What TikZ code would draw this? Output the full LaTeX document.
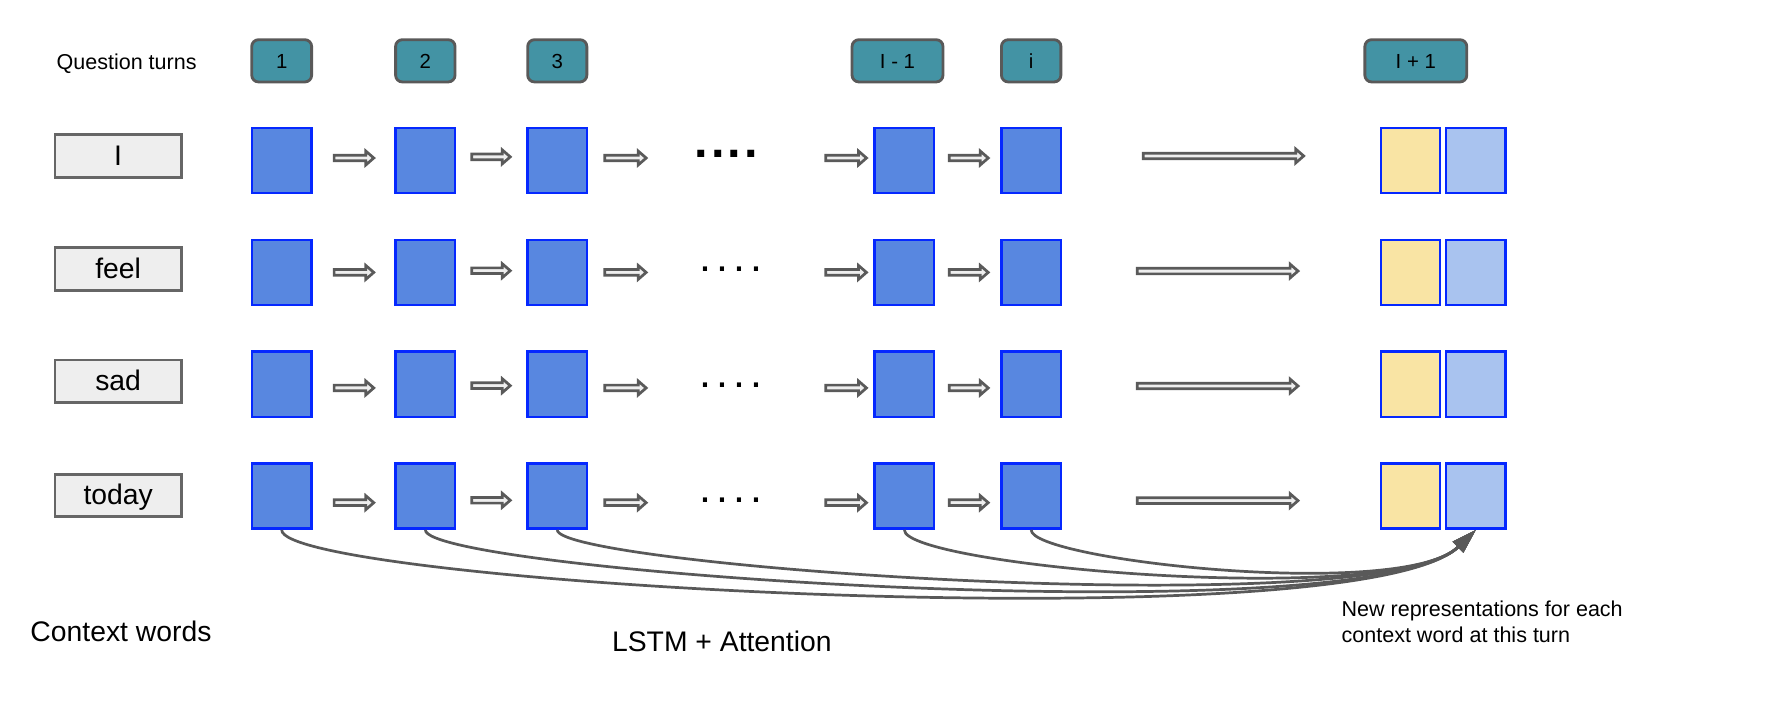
\documentclass[tikz,border=0pt]{standalone}
\usepackage{fontspec}
\setmainfont{Liberation Sans}
\usetikzlibrary{calc,arrows.meta}
\definecolor{tealfill}{HTML}{4393A4}
\definecolor{darkline}{HTML}{595959}
\definecolor{wordfill}{HTML}{EEEEEE}
\definecolor{wordline}{HTML}{666666}
\definecolor{cellfill}{HTML}{5887E0}
\definecolor{cellline}{HTML}{0528FF}
\definecolor{yelfill}{HTML}{F9E4A4}
\definecolor{lbfill}{HTML}{A9C3EF}
\definecolor{arrfill}{HTML}{EEEEEE}
\definecolor{arrline}{HTML}{5A5A5A}
\definecolor{curveline}{HTML}{595959}
\tikzset{
  turnbox/.style={draw=darkline, fill=tealfill, line width=2.5pt, rounded corners=6pt,
    inner sep=0pt, minimum height=37.3pt, text height=15pt, text depth=1.8pt,
    font={\fontsize{18}{22}\selectfont}},
  wordbox/.style={draw=wordline, fill=wordfill, line width=2.5pt, inner sep=0pt,
    minimum width=111.5pt, minimum height=37.5pt, text height=20pt, text depth=3.4pt,
    font={\fontsize{25}{30}\selectfont}},
  cell/.style={draw=cellline, line width=2.2pt, inner sep=0pt, minimum width=52.8pt, minimum height=57.5pt},
  lstmcell/.style={cell, fill=cellfill},
  oldcell/.style={cell, fill=yelfill, minimum width=52pt},
  newcell/.style={cell, fill=lbfill, minimum width=52.4pt},
  blockarr/.style={draw=arrline, fill=arrfill, line width=2.4pt, line join=miter,
    to path={let \p1=(\tikztostart), \p2=(\tikztotarget) in
      (\x1,\y1+2.5pt) -- (\x2-7pt,\y1+2.5pt) -- (\x2-7pt,\y1+6.1pt) -- (\x2,\y1)
      -- (\x2-7pt,\y1-6.1pt) -- (\x2-7pt,\y1-2.5pt) -- (\x1,\y1-2.5pt) -- cycle}},
  attn/.style={draw=curveline, line width=2.4pt, -{Triangle[length=22pt,width=13pt]}},
  plain/.style={inner sep=0pt, anchor=base west},
}
\begin{document}
\begin{tikzpicture}[x=1pt,y=1pt]
\useasboundingbox (0,0) rectangle (1568,-635.6);

% question turns
\node[plain, font={\fontsize{19}{23}\selectfont}] (qt) at (49.8,-61) {Question turns};
\node[turnbox, minimum width=52.9pt] (t1) at (248.7,-53.7) {1};
\node[turnbox, minimum width=52.5pt] (t2) at (375.5,-53.7) {2};
\node[turnbox, minimum width=52.2pt] (t3) at (492,-53.7) {3};
\node[turnbox, minimum width=80.3pt] (t4) at (792.4,-53.7) {I - 1};
\node[turnbox, minimum width=52.5pt] (t5) at (910.4,-53.7) {i};
\node[turnbox, minimum width=90pt] (t6) at (1250,-53.7) {I + 1};

% context words
\node[wordbox] (w1) at (104.3,-137.6) {I};
\node[wordbox] (w2) at (104.3,-237.5) {feel};
\node[wordbox] (w3) at (104.3,-336.6) {sad};
\node[wordbox] (w4) at (104.3,-437.3) {today};

% cells
\foreach \r/\y in {1/141.7, 2/240.5, 3/339.2, 4/438}{
  \node[lstmcell] (b\r1) at (248.7,-\y) {};
  \node[lstmcell] (b\r2) at (375.5,-\y) {};
  \node[lstmcell] (b\r3) at (492,-\y) {};
  \node[lstmcell] (b\r4) at (798.4,-\y) {};
  \node[lstmcell] (b\r5) at (910.4,-\y) {};
  \node[oldcell] (y\r) at (1245.4,-\y) {};
  \node[newcell] (n\r) at (1303,-\y) {};
}

% block arrows
\foreach \r/\d/\e/\ls/\le/\lo in {1/2.2/3.2/71.4/67.3/4, 2/0/1.5/66.1/72.3/1.2, 3/-3.3/-1.3/66.1/72.3/-1.6, 4/-5.8/-3.7/66.1/72.3/-4}{
  \path[blockarr] ($(b\r1.east)+(18.8,\d)$) to ($(b\r2.west)+(-18,\d)$);
  \path[blockarr] ($(b\r2.east)+(13.5,\e)$) to ($(b\r3.west)+(-14,\e)$);
  \path[blockarr] ($(b\r3.east)+(14.5,\d)$) to ($(b\r3.east)+(51,\d)$);
  \path[blockarr] ($(b\r4.west)+(-41.9,\d)$) to ($(b\r4.west)+(-5.9,\d)$);
  \path[blockarr] ($(b\r4.east)+(12.1,\d)$) to ($(b\r5.west)+(-10.4,\d)$);
  \path[blockarr] ($(b\r5.east)+(\ls,\lo)$) to ($(y\r.west)+(-\le,\lo)$);
}

% ellipses
\node[plain, font={\fontsize{43}{50}\selectfont\bfseries}] (dots1) at (613,-139) {.\kern2.65pt.\kern2.65pt.\kern2.65pt.};
\node[plain, font={\fontsize{38}{45}\selectfont}] (dots2) at (617.4,-240) {.\kern4.4pt.\kern4.4pt.\kern4.4pt.};
\node[plain, font={\fontsize{38}{45}\selectfont}] (dots3) at (617.4,-342) {.\kern4.4pt.\kern4.4pt.\kern4.4pt.};
\node[plain, font={\fontsize{38}{45}\selectfont}] (dots4) at (617.4,-443.8) {.\kern4.4pt.\kern4.4pt.\kern4.4pt.};

% attention curves
\draw[attn] (b41.south) .. controls +(0,-47) and +(-104.3,-100.8) .. (n4.south);
\draw[attn] (b42.south) .. controls +(0,-37) and +(-97,-93.8) .. (n4.south);
\draw[attn] (b43.south) .. controls +(0,-32) and +(-86.3,-83.4) .. (n4.south);
\draw[attn] (b44.south) .. controls +(0,-32) and +(-71.9,-69.5) .. (n4.south);
\draw[attn] (b45.south) .. controls +(0,-27) and +(-64.7,-62.6) .. (n4.south);

% labels
\node[plain, font={\fontsize{25}{30}\selectfont}] (cw) at (26.7,-566.5) {Context words};
\node[plain, font={\fontsize{25}{30}\selectfont}] (la) at (540.2,-575.3) {LSTM + Attention};
\node[inner sep=0pt, anchor=north west, align=left, font={\fontsize{19}{23.6}\selectfont}] (nr) at (1184.3,-530) {New representations for each\\context word at this turn};
\end{tikzpicture}
\end{document}
